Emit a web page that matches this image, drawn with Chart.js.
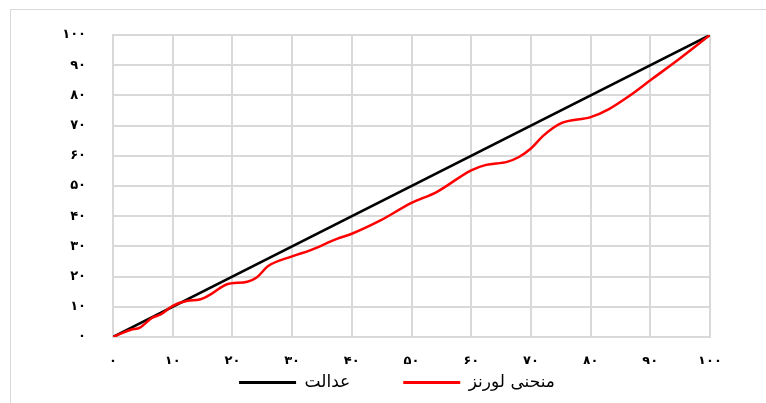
<!DOCTYPE html>
<html>
<head>
<meta charset="utf-8">
<script src="https://cdn.jsdelivr.net/npm/chart.js@4"></script>
<style>
  html, body { margin: 0; padding: 0; background: #fff; }
  #wrap { width: 766px; height: 403px; position: relative; }
</style>
</head>
<body>
<div id="wrap"><canvas id="c" width="766" height="403"></canvas></div>
<script>
// ---- data ----
const tickLabels = ['۰','۱۰','۲۰','۳۰','۴۰','۵۰','۶۰','۷۰','۸۰','۹۰','۱۰۰'];
const equalityLabel = 'عدالت';
const lorenzLabel = 'منحنی لورنز';
const equalityX = [0, 100];
const equalityY = [0, 100];
const lorenzX = [0, 3, 4.5, 6.5, 8, 10, 12.5, 14.5, 16.5, 19, 22.5, 24, 26, 30, 33, 37.5, 40, 44.8, 50, 54.2, 60, 62.5, 66, 68, 70, 72, 75, 80, 83, 86.6, 90, 95, 100];
const lorenzY = [0, 2.4, 3.1, 6.3, 7.5, 10.3, 12, 12.4, 14.3, 17.4, 18.3, 19.6, 23.5, 26.7, 28.7, 32.5, 34.2, 38.6, 44.4, 48, 55.2, 57, 58, 59.6, 62.4, 66.5, 70.7, 72.8, 75.4, 80, 85, 92.3, 100];

const toPoints = (xs, ys) => xs.map((x, i) => ({x: x, y: ys[i]}));

const frame = {
  id: 'frame',
  beforeDraw(chart) {
    const ctx = chart.ctx;
    ctx.save();
    ctx.fillStyle = '#fff';
    ctx.fillRect(0, 0, chart.width, chart.height);
    ctx.strokeStyle = '#d9d9d9';
    ctx.lineWidth = 1;
    ctx.beginPath();
    ctx.moveTo(10.5, chart.height);
    ctx.lineTo(10.5, 9.5);
    ctx.lineTo(chart.width, 9.5);
    ctx.stroke();
    ctx.restore();
  }
};

// legend uses a wide item gap (labels.padding); keep its box short, lift its top
// so the row stays visible, and nudge it right to sit under the plot
const legendAdjust = {
  id: 'legendAdjust',
  afterLayout(chart) {
    const lg = chart.legend;
    if (!lg) return;
    const d = lg.options.labels.padding - 10;
    lg.top -= d;
    lg.left += 42;
    lg.right += 42;
  }
};

const tickFont = { family: 'DejaVu Sans', size: 13, weight: 'bold' };

new Chart(document.getElementById('c'), {
  type: 'line',
  data: {
    datasets: [
      {
        label: lorenzLabel,
        data: toPoints(lorenzX, lorenzY),
        borderColor: '#ff0000',
        backgroundColor: '#ff0000',
        borderWidth: 2.5,
        pointRadius: 0,
        cubicInterpolationMode: 'monotone',
        fill: false
      },
      {
        label: equalityLabel,
        data: toPoints(equalityX, equalityY),
        borderColor: '#000000',
        backgroundColor: '#000000',
        borderWidth: 2.5,
        pointRadius: 0,
        tension: 0,
        fill: false
      }
    ]
  },
  options: {
    responsive: false,
    animation: false,
    devicePixelRatio: 1,
    layout: { padding: { left: 0, right: 56, top: 35, bottom: 0 } },
    plugins: {
      tooltip: { enabled: false },
      legend: {
        position: 'bottom',
        maxHeight: 39,
        labels: {
          boxWidth: 57,
          boxHeight: 3,
          padding: 53,
          color: '#000',
          font: { family: 'DejaVu Sans', size: 17 },
          sort: (a, b) => b.datasetIndex - a.datasetIndex,
          generateLabels: (chart) =>
            Chart.defaults.plugins.legend.labels.generateLabels(chart)
              .map(l => Object.assign(l, { lineWidth: 0 }))
        }
      }
    },
    scales: {
      x: {
        type: 'linear',
        min: 0, max: 100,
        afterFit: (s) => { s.height = 27; },
        grid: { color: '#d9d9d9', lineWidth: 2, drawTicks: false },
        border: { color: '#d9d9d9', width: 2 },
        ticks: {
          stepSize: 10,
          padding: 17,
          color: '#000',
          font: tickFont,
          maxRotation: 0,
          callback: (v, i) => tickLabels[i]
        }
      },
      y: {
        type: 'linear',
        min: 0, max: 100,
        afterFit: (s) => { s.width = 113; },
        grid: { color: '#d9d9d9', lineWidth: 2, drawTicks: false },
        border: { color: '#d9d9d9', width: 2 },
        ticks: {
          stepSize: 10,
          padding: 27,
          color: '#000',
          font: tickFont,
          callback: (v, i) => tickLabels[i]
        }
      }
    }
  },
  plugins: [frame, legendAdjust]
});
</script>
</body>
</html>
